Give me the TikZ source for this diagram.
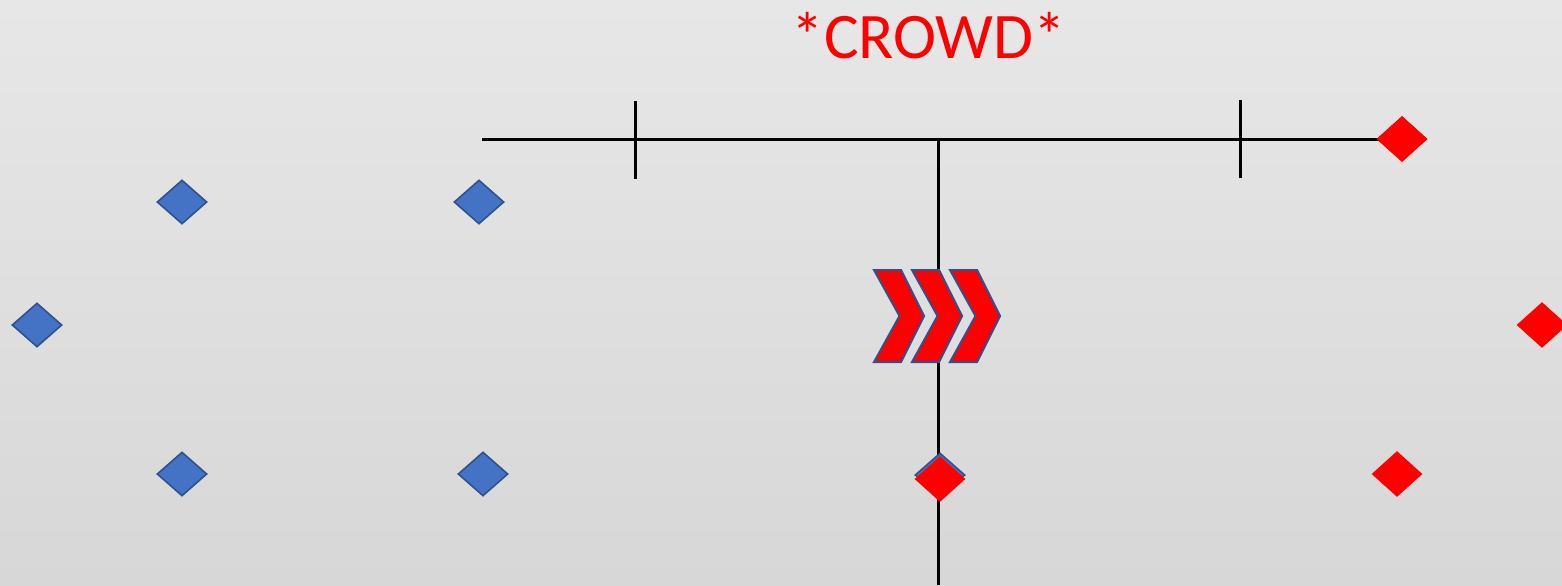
\documentclass[tikz,border=0pt]{standalone}
\usepackage{fontspec}
\setmainfont{Carlito}
\usetikzlibrary{shapes.geometric}
\definecolor{bluefill}{HTML}{4472C4}
\definecolor{blueline}{HTML}{2F528F}
\definecolor{pred}{HTML}{FF0000}
\tikzset{
  bdia/.style={shape=diamond, draw=blueline, fill=bluefill, line width=0.8pt, inner sep=0pt, minimum width=25pt, minimum height=22pt},
  rdia/.style={shape=diamond, fill=pred, inner sep=0pt, minimum width=25.5pt, minimum height=23pt},
  bar/.style={line width=1.5pt, black},
  chev/.style={fill=pred, draw=blueline, line width=1pt, line join=miter},
}
\begin{document}
\begin{tikzpicture}[x=0.5pt,y=-0.5pt]
\shade[top color={rgb,255:red,231;green,231;blue,231}, bottom color={rgb,255:red,215;green,215;blue,215}] (0,0) rectangle (1562,585);
\useasboundingbox (0,0) rectangle (1562,585);
\node[text=pred, font=\fontsize{32.5pt}{36pt}\selectfont, inner sep=0pt] (title) at (929,36) {*CROWD*};
% lines
\coordinate (hstart) at (482,139);
\coordinate (junction) at (938,139);
\coordinate (vend) at (938,585);
\node[rdia] (r1) at (1402,139) {};
\draw[bar] (hstart) -- (r1.center);
\draw[bar] (junction) -- (vend);
\draw[bar] (635,101) -- (635,179);
\draw[bar] (1240,100) -- (1240,178);
% chevrons
\foreach \dx in {0,38,76} {
  \draw[chev] (874+\dx,270) -- (901+\dx,270) -- (924+\dx,316) -- (901+\dx,362) -- (874+\dx,362) -- (899.5+\dx,316) -- cycle;
}
% blue diamonds
\node[bdia] (b1) at (182,202) {};
\node[bdia] (b2) at (479,202) {};
\node[bdia] (b3) at (37,325) {};
\node[bdia] (b4) at (182,474) {};
\node[bdia] (b5) at (483,474) {};
\node[bdia] (b6) at (940,475) {};
% red diamonds
\node[rdia] (r1b) at (1402,139) {};
\node[rdia] (r2) at (1542,325) {};
\node[rdia] (r3) at (1397,474) {};
\node[rdia] (r4) at (940,479) {};
\end{tikzpicture}
\end{document}
